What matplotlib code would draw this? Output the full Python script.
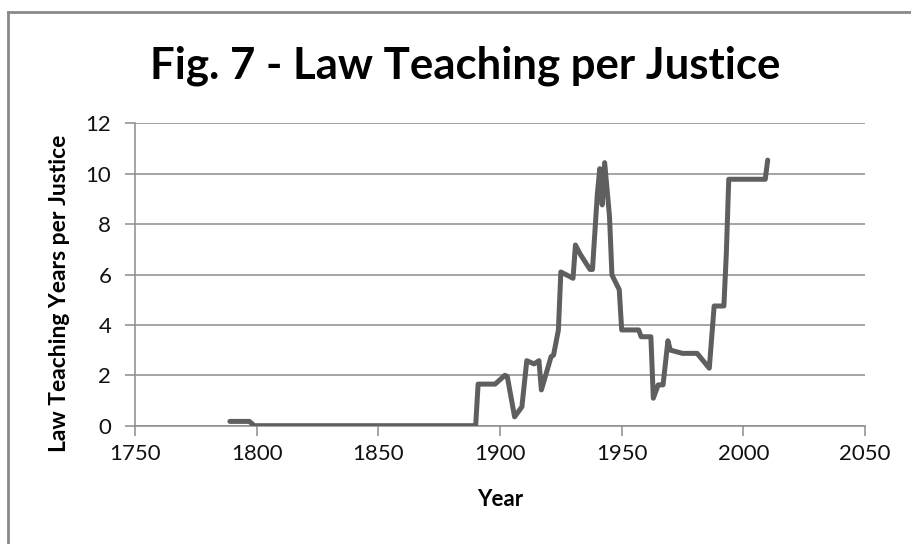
import matplotlib
matplotlib.use('Agg')
from matplotlib import pyplot as plt
from matplotlib.lines import Line2D

plt.rcParams['font.family'] = ['Lato', 'DejaVu Sans']

years = [1789, 1797, 1799, 1890, 1891, 1898, 1902, 1903, 1906, 1909, 1911,
         1914, 1916, 1917, 1921, 1922, 1924, 1925, 1930, 1931, 1933, 1937,
         1938, 1940, 1941, 1942, 1943, 1945, 1946, 1949, 1950, 1957, 1958,
         1962, 1963, 1965, 1967, 1969, 1970, 1975, 1981, 1986, 1988, 1992,
         1993, 1994, 2009, 2010]
teaching = [0.17, 0.17, 0.0, 0.0, 1.65, 1.65, 2.0, 1.95, 0.35, 0.75, 2.58,
            2.45, 2.58, 1.42, 2.74, 2.8, 3.8, 6.1, 5.85, 7.17, 6.8, 6.2,
            6.2, 9.2, 10.2, 8.76, 10.44, 8.3, 5.98, 5.4, 3.8, 3.8, 3.53,
            3.53, 1.09, 1.62, 1.62, 3.37, 3.0, 2.87, 2.87, 2.28, 4.75, 4.75,
            6.84, 9.78, 9.78, 10.54]

xticks = [1750, 1800, 1850, 1900, 1950, 2000, 2050]
yticks = [0, 2, 4, 6, 8, 10, 12]

fig = plt.figure(figsize=(9.12, 5.44), dpi=100)
ax = fig.add_axes([0.148, 0.2175, 0.8005, 0.5558])

grid_c = '#8c8c8c'
ax.plot(years, teaching, color='#5f5f5f', linewidth=3.6,
        solid_joinstyle='round', solid_capstyle='round', zorder=3)

ax.set_xlim(1750, 2050)
ax.set_ylim(0, 12)
ax.set_xticks(xticks)
ax.set_yticks(yticks)
ax.yaxis.grid(True, color=grid_c, linewidth=1.1)
ax.set_axisbelow(True)
for s in ['top', 'right']:
    ax.spines[s].set_visible(False)
for s in ['left', 'bottom']:
    ax.spines[s].set_color(grid_c)
    ax.spines[s].set_linewidth(1.1)
ax.tick_params(axis='both', direction='out', length=7, width=1.1,
               color=grid_c, labelsize=16, labelcolor='#111111', pad=6)
ax.tick_params(axis='y', pad=10)

ax.set_xlabel('Year', fontsize=16, fontweight='bold', labelpad=18)
ax.set_ylabel('Law Teaching Years per Justice', fontsize=16.5,
              fontweight='bold')
ax.yaxis.set_label_coords(-0.089, 0.437)

fig.text(0.51, 0.88, 'Fig. 7 - Law Teaching per Justice', ha='center',
         va='center', fontsize=31.5, fontweight='bold')

# chart area frame (cropped on the right and bottom)
frame_c = '#8a8a8a'
fig.add_artist(Line2D([8 / 912, 8 / 912], [0, 1 - 12 / 544],
                      transform=fig.transFigure, color=frame_c, linewidth=2))
fig.add_artist(Line2D([8 / 912, 1], [1 - 12 / 544, 1 - 12 / 544],
                      transform=fig.transFigure, color=frame_c, linewidth=2))

fig.savefig('out.png', dpi=100)
